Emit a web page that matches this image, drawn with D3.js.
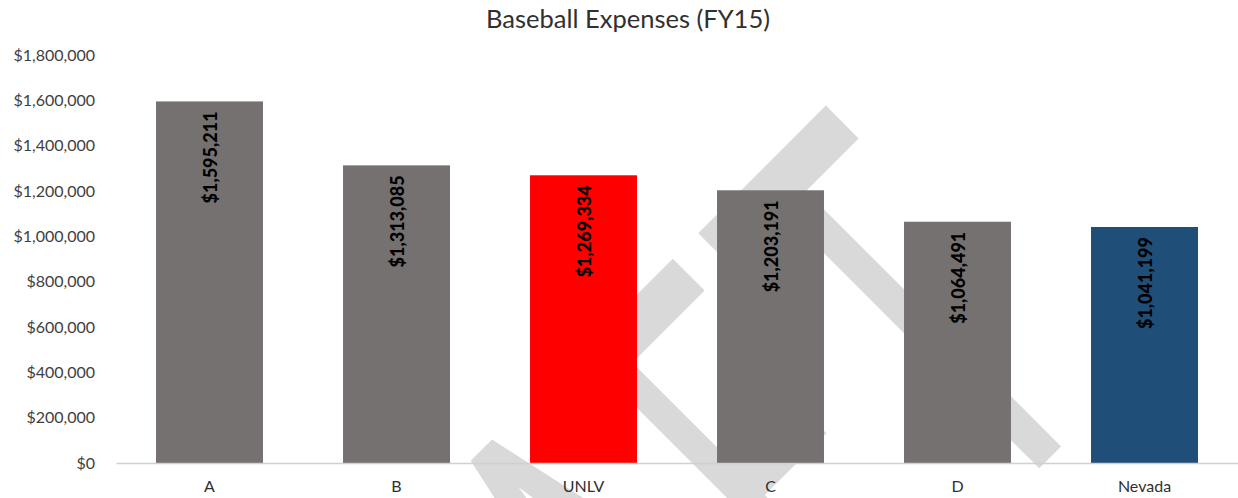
<!DOCTYPE html>
<html>
<head>
<meta charset="utf-8">
<script src="https://cdn.jsdelivr.net/npm/d3@7"></script>
<style>
  html, body { margin: 0; padding: 0; background: #ffffff; }
  svg { display: block; }
  text { font-family: Lato, "Open Sans", sans-serif; }
</style>
</head>
<body>
<svg id="chart" width="1238" height="498"></svg>
<script>
// ---- data ----
const categories = ["A", "B", "UNLV", "C", "D", "Nevada"];
const expenses = [1595211, 1313085, 1269334, 1203191, 1064491, 1041199];
const barColors = ["#767171", "#767171", "#ff0000", "#767171", "#767171", "#1f4e79"];
const yTicks = [0, 200000, 400000, 600000, 800000, 1000000, 1200000, 1400000, 1600000, 1800000];
const chartTitle = "Baseball Expenses (FY15)";
const watermarkText = "DRAFT";

// ---- layout ----
const W = 1238, H = 498;
const plot = { left: 116, right: 1238, top: 55, bottom: 463 };
const svg = d3.select("#chart");

const x = d3.scaleBand()
  .domain(categories)
  .range([plot.left, plot.right])
  .paddingInner(0.428)
  .paddingOuter(0.214);

const y = d3.scaleLinear()
  .domain([0, 1800000])
  .range([plot.bottom, plot.top]);

// ---- watermark (rotated text, behind the bars) ----
(function drawWatermark() {
  const capTop = 651, base = 1066;
  const targets = { T: [324, 510], F: [158, 297] };
  const gap = 29;
  const ctx = document.createElement("canvas").getContext("2d");
  const fam = "Lato";
  ctx.font = `100px ${fam}`;
  const capRatio = ctx.measureText("T").actualBoundingBoxAscent / 100;
  const fs = (base - capTop) / capRatio;
  ctx.font = `${fs}px ${fam}`;
  const letters = watermarkText.split("");
  const ink = letters.map(ch => {
    const m = ctx.measureText(ch);
    return { ch, l: -m.actualBoundingBoxLeft, r: m.actualBoundingBoxRight };
  });
  const g = svg.append("g").attr("transform", "rotate(-45)");
  let nextRight = null;
  const scales = [];
  for (let i = letters.length - 1; i >= 0; i--) {
    const it = ink[i];
    const w = it.r - it.l;
    let left, sx;
    if (targets[it.ch]) {
      const [a, b] = targets[it.ch];
      sx = (b - a) / w; left = a;
      scales.push(sx);
    } else {
      sx = d3.mean(scales);
      const right = (it.ch === "A") ? 130 : nextRight;
      left = right - w * sx;
    }
    nextRight = left - gap;
    g.append("text")
      .attr("transform", `translate(${left - it.l * sx},${base}) scale(${sx},1)`)
      .attr("font-size", fs)
      .attr("fill", "#d9d9d9")
      .style("font-family", fam)
      .text(it.ch);
  }
})();

// ---- title ----
svg.append("text")
  .attr("x", 628)
  .attr("y", 28)
  .attr("text-anchor", "middle")
  .attr("font-size", 25.5)
  .attr("fill", "#303030")
  .text(chartTitle);

// ---- y axis labels (no line, no ticks) ----
const yAxis = d3.axisLeft(y)
  .tickValues(yTicks)
  .tickFormat(d3.format("$,"))
  .tickSize(0)
  .tickPadding(0);
const yg = svg.append("g")
  .attr("transform", `translate(95,0)`)
  .call(yAxis);
yg.select(".domain").remove();
yg.selectAll("text")
  .attr("font-size", 16)
  .attr("fill", "#404040")
  .style("font-family", "Lato, sans-serif");

// ---- bars ----
svg.append("g").selectAll("rect")
  .data(categories)
  .join("rect")
  .attr("x", d => x(d))
  .attr("y", (d, i) => y(expenses[i]))
  .attr("width", x.bandwidth())
  .attr("height", (d, i) => y(0) - y(expenses[i]))
  .attr("fill", (d, i) => barColors[i]);

// ---- baseline / x axis ----
const xAxis = d3.axisBottom(x).tickSize(0).tickPadding(18);
const xg = svg.append("g")
  .attr("transform", `translate(0,${y(0)})`)
  .call(xAxis);
xg.select(".domain")
  .attr("stroke", "#d0d0d0")
  .attr("stroke-width", 1.5);
xg.selectAll("text")
  .attr("font-size", 16)
  .attr("fill", "#303030")
  .style("font-family", "Lato, sans-serif");

// ---- value labels (rotated) ----
const fmt = d3.format("$,");
svg.append("g").selectAll("text")
  .data(categories)
  .join("text")
  .attr("transform", (d, i) =>
    `translate(${x(d) + x.bandwidth() / 2 + 1},${y(expenses[i]) + 10}) rotate(-90)`)
  .attr("text-anchor", "end")
  .attr("dy", "0.36em")
  .attr("font-size", 18)
  .attr("font-weight", 900)
  .attr("fill", "#000000")
  .text((d, i) => fmt(expenses[i]));
</script>
</body>
</html>
